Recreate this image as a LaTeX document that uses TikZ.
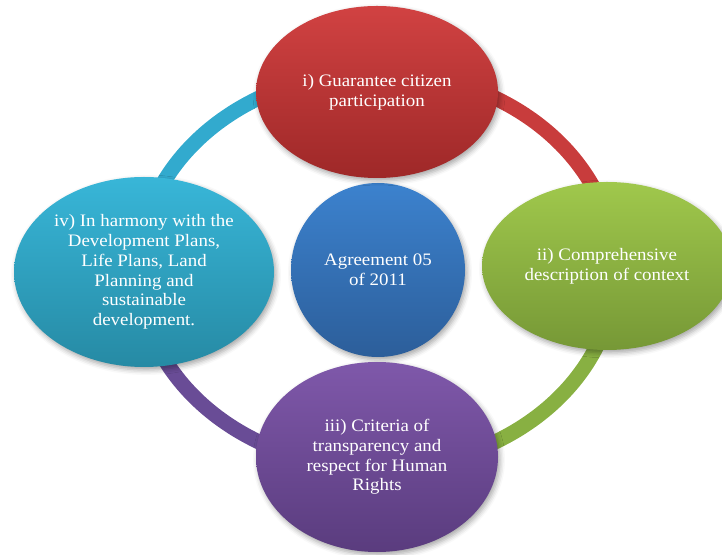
\documentclass[tikz,border=0pt]{standalone}
\usepackage{fontspec}
\setmainfont{Liberation Serif}[FakeStretch=1.08]
\usetikzlibrary{shapes.geometric,shadows.blur}
\definecolor{redT}{RGB}{209,66,66}
\definecolor{redB}{RGB}{158,40,40}
\definecolor{greenT}{RGB}{160,200,76}
\definecolor{greenB}{RGB}{118,152,54}
\definecolor{purpT}{RGB}{127,88,170}
\definecolor{purpB}{RGB}{90,60,126}
\definecolor{cyanT}{RGB}{56,182,216}
\definecolor{cyanB}{RGB}{38,138,164}
\definecolor{blueT}{RGB}{60,130,206}
\definecolor{blueB}{RGB}{44,94,154}
\definecolor{ringC}{RGB}{50,170,206}
\definecolor{ringR}{RGB}{200,60,60}
\definecolor{ringG}{RGB}{136,176,66}
\definecolor{ringP}{RGB}{105,76,150}
\tikzset{
  bubble/.style={ellipse, inner sep=0pt, align=center, text=white,
    font=\fontsize{17.5}{19.7}\selectfont,
    blur shadow={shadow xshift=2pt, shadow yshift=-3pt, shadow blur radius=5pt, shadow opacity=35}},
  ringseg/.style={line width=15pt, line cap=butt}
}
\begin{document}
\begin{tikzpicture}[x=1pt,y=1pt]
\useasboundingbox (0,0) rectangle (722,554);
\clip (0,0) rectangle (722,554);
\coordinate (ring) at (377,284);
\coordinate (pT) at (377,482);
\coordinate (pR) at (615,284);
\coordinate (pB) at (377,86);
\coordinate (pL) at (139,284);
\draw[ringseg, ringC] (pL) arc[start angle=180, end angle=90, x radius=238, y radius=198];
\draw[ringseg, ringR] (pT) arc[start angle=90, end angle=0, x radius=238, y radius=198];
\draw[ringseg, ringG] (pR) arc[start angle=0, end angle=-90, x radius=238, y radius=198];
\draw[ringseg, ringP] (pB) arc[start angle=270, end angle=180, x radius=238, y radius=198];
\node[bubble, minimum width=174, minimum height=174, top color=blueT, bottom color=blueB]
  (center) at (378,284) {Agreement 05\\of 2011};
\node[bubble, minimum width=242, minimum height=172, top color=redT, bottom color=redB]
  (top) at (377,462) {i) Guarantee citizen\\participation};
\node[bubble, minimum width=250, minimum height=168, top color=greenT, bottom color=greenB]
  (right) at (607,288) {ii) Comprehensive\\description of context};
\node[bubble, minimum width=242, minimum height=190, top color=purpT, bottom color=purpB]
  (bottom) at (377,97) {iii) Criteria of\\transparency and\\respect for Human\\Rights};
\node[bubble, minimum width=260, minimum height=190, top color=cyanT, bottom color=cyanB]
  (left) at (144,282) {iv) In harmony with the\\Development Plans,\\Life Plans, Land\\Planning and\\sustainable\\development.};
\end{tikzpicture}
\end{document}
